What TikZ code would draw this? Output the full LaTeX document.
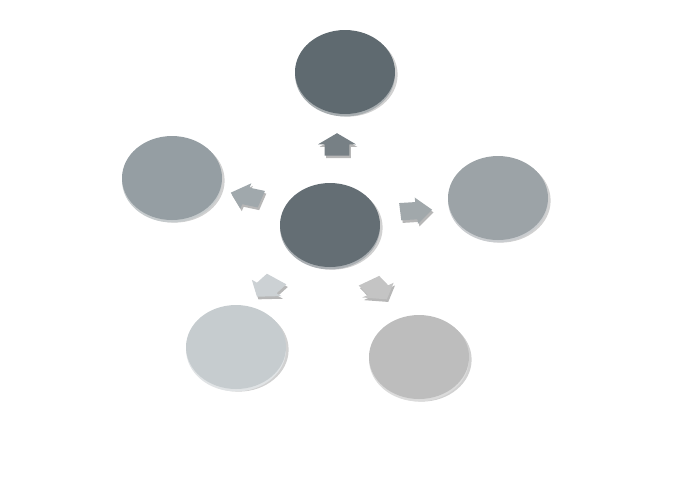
\documentclass[tikz,border=0pt]{standalone}
\usepackage{tikz}
\usetikzlibrary{shapes.geometric,shapes.arrows,shadows}
\definecolor{slatedark}{HTML}{5F6A70}
\definecolor{slatehub}{HTML}{646E74}
\definecolor{slatemid}{HTML}{959EA3}
\definecolor{slatemidr}{HTML}{9CA3A7}
\definecolor{slatepale}{HTML}{C6CCCF}
\definecolor{greypale}{HTML}{BDBDBD}
\tikzset{
  disc/.style={ellipse, minimum width=2cm, minimum height=1.68cm, inner sep=0pt,
    fill=#1, drop shadow={shadow xshift=1.5pt, shadow yshift=-1.5pt, opacity=0.3, fill=black!60},
    preaction={fill=#1!55!white, transform canvas={yshift=-1.4pt}}},
  blockarr/.style={single arrow, minimum height=0.64cm, inner xsep=0pt, inner ysep=0.24cm,
    single arrow head extend=0.13cm, single arrow tip angle=100, fill=#1, yscale=0.7,
    drop shadow={shadow xshift=0.8pt, shadow yshift=-1.5pt, opacity=0.4, fill=black!70}}
}
\begin{document}
\begin{tikzpicture}[x=0.02cm, y=-0.02cm]
  \useasboundingbox (0,0) rectangle (682,481);

  % outer discs
  \node[disc=slatedark] (top) at (345,72) {};
  \node[disc=slatemid] (left) at (172,178) {};
  \node[disc=slatemidr] (right) at (498,198) {};
  \node[disc=slatepale] (botleft) at (236,347) {};
  \node[disc=greypale] (botright) at (419,357) {};

  % hub
  \node[disc=slatehub] (hub) at (330,225) {};

  % arrows out of the hub
  \node[blockarr=slatedark!85!white, rotate=90] (arrtop) at (337,148) {};
  \node[blockarr=slatemid!90!white, rotate=163] (arrleft) at (251,197) {};
  \node[blockarr=slatemidr!95!white, rotate=5] (arrright) at (411,211) {};
  \node[blockarr=slatepale!90!white, rotate=232] (arrbotleft) at (270,285) {};
  \node[blockarr=greypale!90!white, rotate=-56] (arrbotright) at (375,287) {};
\end{tikzpicture}
\end{document}
